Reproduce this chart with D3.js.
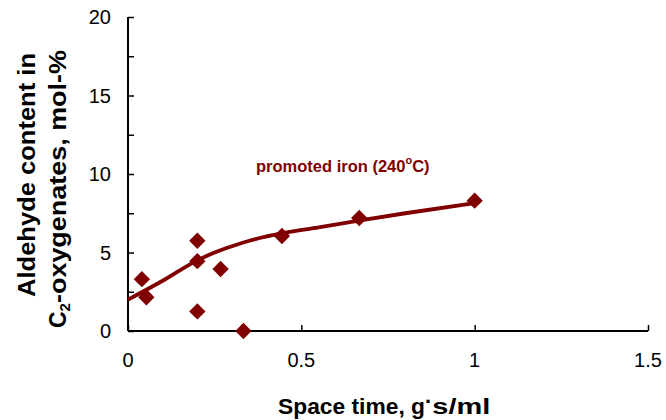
<!DOCTYPE html>
<html>
<head>
<meta charset="utf-8">
<script src="https://cdn.jsdelivr.net/npm/d3@7"></script>
<style>
  html, body { margin: 0; padding: 0; background: #fff; }
  svg { display: block; font-family: Arial, "Liberation Sans", sans-serif; }
</style>
</head>
<body>
<svg id="chart" width="666" height="420"></svg>
<script>
// Measured aldehyde content vs. space time
const spaceTime = [0.04, 0.053, 0.2, 0.2, 0.2, 0.267, 0.333, 0.444, 0.667, 1.0];
const aldehyde  = [3.3, 2.15, 5.75, 4.45, 1.25, 3.95, 0.0, 6.05, 7.2, 8.3];

// Trend line drawn through the measurements
const fitX = [0, 0.1, 0.2, 0.25, 0.3, 0.35, 0.45, 0.55, 0.67, 0.8, 1.0];
const fitY = [2.0, 3.2, 4.5, 5.0, 5.4, 5.75, 6.25, 6.6, 7.05, 7.5, 8.15];

const xTicks = [0, 0.5, 1, 1.5];
const yTicks = [0, 5, 10, 15, 20];
const yMinorTicks = [2.5, 7.5, 12.5, 17.5];

const seriesLabel = "promoted iron (240";
const color = "#800000";

const svg = d3.select("#chart");
const x = d3.scaleLinear().domain([0, 1.5]).range([128, 648]);
const y = d3.scaleLinear().domain([0, 20]).range([331, 17]);

// Axes with inward ticks
const xAxis = d3.axisTop(x).tickValues(xTicks).tickSize(6).tickFormat("");
const gx = svg.append("g").attr("transform", `translate(0,${y(0)})`).call(xAxis);
gx.select(".domain").attr("d", `M${x(0)},0H${x(1.5)}`).attr("stroke", "#000").attr("stroke-width", 2);
gx.selectAll(".tick line").attr("stroke", "#000").attr("stroke-width", 1.5);

const yAxis = d3.axisRight(y).tickValues(yTicks.concat(yMinorTicks)).tickSize(6).tickFormat("");
const gy = svg.append("g").attr("transform", `translate(${x(0)},0)`).call(yAxis);
gy.select(".domain").attr("d", `M0,${y(20)}V${y(0)}`).attr("stroke", "#000").attr("stroke-width", 2);
gy.selectAll(".tick line").attr("stroke", "#000").attr("stroke-width", 1.5);

// Tick labels
svg.append("g").selectAll("text").data(yTicks).join("text")
  .attr("x", 111).attr("y", d => y(d) + 7)
  .attr("text-anchor", "end").attr("font-size", 20).attr("fill", "#000")
  .text(d => d);

svg.append("g").selectAll("text").data(xTicks).join("text")
  .attr("x", d => x(d)).attr("y", 367)
  .attr("text-anchor", "middle").attr("font-size", 20).attr("fill", "#000")
  .text(d => d);

// Trend curve
const fit = fitX.map((v, i) => [v, fitY[i]]);
svg.append("path")
  .attr("d", d3.line().x(d => x(d[0])).y(d => y(d[1])).curve(d3.curveMonotoneX)(fit))
  .attr("fill", "none").attr("stroke", color).attr("stroke-width", 3.8);

// Diamond markers
const pts = spaceTime.map((v, i) => [v, aldehyde[i]]);
const diamond = d3.symbol().type(d3.symbolDiamond2).size(170);
svg.append("g").selectAll("path").data(pts).join("path")
  .attr("transform", d => `translate(${x(d[0])},${y(d[1])})`)
  .attr("d", diamond).attr("fill", color);

// Series label
const lab = svg.append("text")
  .attr("x", 256).attr("y", 172)
  .attr("font-size", 16.5).attr("font-weight", "bold").attr("fill", color);
lab.append("tspan").text(seriesLabel);
lab.append("tspan").attr("font-size", 11).attr("dy", -8).text("o");
lab.append("tspan").attr("dy", 8).text("C)");

// Axis titles
const xt = svg.append("text")
  .attr("x", 278).attr("y", 414)
  .attr("font-size", 22).attr("font-weight", "bold").attr("fill", "#000");
xt.append("tspan").attr("textLength", 147).attr("lengthAdjust", "spacingAndGlyphs").text("Space time, g");
xt.append("tspan").attr("dy", -5).text("·");
xt.append("tspan").attr("dy", 5).attr("textLength", 58).attr("lengthAdjust", "spacingAndGlyphs").text("s/ml");

svg.append("text")
  .attr("transform", "translate(35,175) rotate(-90)")
  .attr("text-anchor", "middle")
  .attr("font-size", 23).attr("font-weight", "bold").attr("fill", "#000")
  .attr("textLength", 244).attr("lengthAdjust", "spacingAndGlyphs")
  .text("Aldehyde content in");

const yt2 = svg.append("g").attr("transform", "translate(66,328) rotate(-90)")
  .append("text")
  .attr("font-size", 23).attr("font-weight", "bold").attr("fill", "#000");
yt2.append("tspan").text("C");
yt2.append("tspan").attr("font-size", 15).attr("dy", 4).text("2");
yt2.append("tspan").attr("dy", -4).attr("textLength", 253).attr("lengthAdjust", "spacingAndGlyphs").text("-oxygenates, mol-%");
</script>
</body>
</html>
